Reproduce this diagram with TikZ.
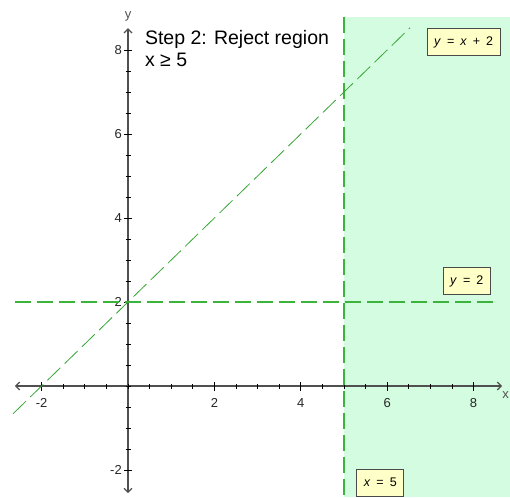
\documentclass[tikz,border=0pt]{standalone}
\usepackage{fontspec}
\setmainfont{Liberation Sans}
\usetikzlibrary{arrows.meta, positioning}
\definecolor{cfill}{HTML}{D4FCE0}
\definecolor{cline}{HTML}{3CB43C}
\definecolor{cdiag}{HTML}{35A535}
\definecolor{cbox}{HTML}{FFFFC8}
\definecolor{cedge}{HTML}{4A4A4A}
\definecolor{caxis}{HTML}{505050}
\newcommand{\gap}{\hspace{6pt}}
\tikzset{
  every picture/.style={x=43.2pt, y=42pt, font=\fontsize{13}{15}\selectfont},
  axisline/.style={draw=caxis, line width=1.2pt,
    {Straight Barb[length=4pt, width=8pt]}-{Straight Barb[length=4pt, width=8pt]}},
  tickmark/.style={draw=black, line width=0.9pt},
  ticklabel/.style={inner sep=0pt, text=black!85},
  boundary/.style={draw=cline, line width=1.2pt, dash pattern=on 16pt off 6pt},
  diagline/.style={draw=cdiag, line width=0.8pt, dash pattern=on 18pt off 6pt},
  eqbox/.style={draw=cedge, fill=cbox, line width=0.9pt, inner xsep=7pt,
    minimum height=27pt, font=\fontsize{12.5}{14}\selectfont},
  title/.style={inner sep=0pt, font=\fontsize{19.5}{22}\selectfont},
}

\begin{document}
\begin{tikzpicture}
  \useasboundingbox (-128pt,-111pt) rectangle (382pt,386pt);
  % rejected half-plane x >= 5
  \fill[cfill] (5,-2.65) rectangle (8.85,8.79);

  % axes
  \draw[axisline] (-2.62,0) -- (8.66,0);
  \draw[axisline] (0,-2.55) -- (0,8.52);
  \foreach \t in {-2,-1.5,...,8} {
    \draw[tickmark] (\t,0) ++(0,-2.5pt) -- ++(0,5pt);
    \draw[tickmark] (0,\t) ++(-2.5pt,0) -- ++(5pt,0);
  }
  \foreach \t in {-2,2,4,6,8} {
    \draw[tickmark] (\t,0) ++(0,-4.5pt) -- ++(0,9pt);
    \draw[tickmark] (0,\t) ++(-4pt,0) -- ++(8pt,0);
    \node[ticklabel, anchor=north] (xl\t) at ([yshift=-12pt]\t,0) {\t};
    \node[ticklabel, anchor=east] (yl\t) at ([xshift=-6pt]0,\t) {\t};
  }
  \node[ticklabel, text=caxis, anchor=south] (ylab) at (0,8.68) {y};
  \node[ticklabel, text=caxis, anchor=east] (xlab) at (381pt,-9pt) {x};

  % boundary lines
  \draw[boundary] (-2.62,2) -- (8.52,2);
  \draw[boundary] (5,8.79) -- (5,-2.65);
  \draw[diagline] (-2.66,-0.66) -- (6.53,8.53);

  % labels
  \node[eqbox] (eqdiag) at (7.77,8.18) {\textit{y}\gap=\gap\textit{x}\gap+\gap2};
  \node[eqbox] (eqhor) at (7.84,2.50) {\textit{y}\gap=\gap2};
  \node[eqbox] (eqver) at (5.84,-2.30) {\textit{x}\gap=\gap5};

  \node[title, anchor=base west] (step) at (0.39,8.14) {Step 2: Reject region};
  \node[title, anchor=base west] (cond) at ([yshift=-22pt]step.base west) {x ≥ 5};
\end{tikzpicture}
\end{document}
